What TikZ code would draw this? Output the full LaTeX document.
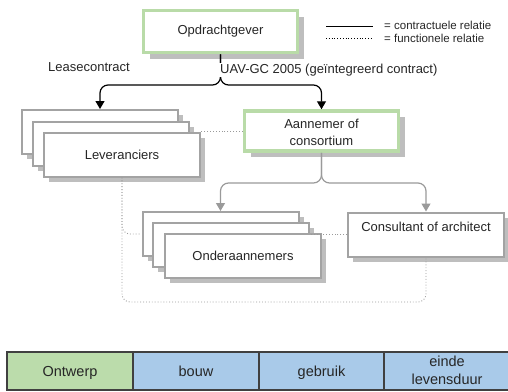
\documentclass[tikz,border=0pt]{standalone}
\usepackage{fontspec}
\setmainfont{Liberation Sans}
\usetikzlibrary{shadows,arrows.meta}
\definecolor{leafgreen}{HTML}{B9DBA8}
\definecolor{barblue}{HTML}{A9CAE9}
\definecolor{bargreen}{HTML}{BBDCAB}
\definecolor{boxgray}{HTML}{A3A3A3}
\definecolor{shadegray}{HTML}{BEBEBE}
\definecolor{inkgray}{HTML}{262626}
\definecolor{linkgray}{HTML}{9A9A9A}
\tikzset{
  txt/.style={text=inkgray,font=\fontsize{13}{16}\selectfont},
  keybox/.style={txt,draw=leafgreen,line width=3.5pt,fill=white,
    minimum width=154pt,minimum height=42pt,inner sep=0pt,align=center,
    drop shadow={shadow xshift=6pt,shadow yshift=-6pt,fill=shadegray,opacity=1}},
  card/.style={txt,draw=boxgray,line width=2pt,fill=white,
    minimum width=156pt,minimum height=44pt,inner sep=0pt,align=center,
    drop shadow={shadow xshift=5pt,shadow yshift=-5pt,fill=shadegray,opacity=1}},
  contract/.style={draw=black,line width=1.2pt,rounded corners=8pt,
    -{Triangle[length=8pt,width=9pt]}},
  subcontract/.style={draw=linkgray,line width=1.2pt,rounded corners=8pt,
    -{Triangle[length=8pt,width=9pt]}},
  functional/.style={draw=linkgray,line width=0.9pt,dotted,rounded corners=8pt},
  phase/.style={draw=black!75,line width=1.6pt,minimum height=38pt,inner sep=0pt},
  phasetxt/.style={text=inkgray,inner sep=0pt,align=center,
    font=\fontsize{14.5}{18}\selectfont},
  legendtxt/.style={text=inkgray,font=\fontsize{11.5}{13}\selectfont,anchor=west,inner sep=0pt}
}
\begin{document}
\begin{tikzpicture}[x=1pt,y=-1pt]
\useasboundingbox (0,0) rectangle (508,391);

% client and main contractor
\node[keybox] (opd) at (220.5,31.5) {Opdrachtgever};
\node[keybox,minimum height=40pt] (aan) at (321.5,131) {};
\node[txt,align=center,anchor=north,inner sep=0pt] (aantxt) at (321.5,119)
  {Aannemer of\\[1pt]consortium};

% suppliers (stack of three)
\node[card] (lev1) at (100,132) {};
\node[card] (lev2) at (110.5,143.5) {};
\node[card] (lev3) at (122,154.5) {Leveranciers};

% subcontractors (stack of three)
\node[card] (ond1) at (220.5,234) {};
\node[card] (ond2) at (230.5,245) {};
\node[card] (ond3) at (243,256) {Onderaannemers};

% consultant
\node[card] (con) at (426,234.5) {};
\node[txt,anchor=north] (contxt) at (con.north) [yshift=-7pt] {Consultant of architect};

% branching levels
\coordinate (yb) at (0,85);
\coordinate (yc) at (0,183);
\coordinate (yd) at (0,302);

% contractual relations
\draw[contract] (opd.south) |- (lev1.north |- yb) -- (lev1.north);
\draw[contract] (opd.south) |- (aan.north |- yb) -- (aan.north);
\node[txt,anchor=west,fill=white,inner sep=1pt] (uav) at (219,70) {UAV-GC 2005 (geïntegreerd contract)};
\node[txt,anchor=east,inner sep=0pt] (lease) at (130,67) {Leasecontract};

\draw[subcontract] (aan.south) |- (ond1.north |- yc) -- (ond1.north);
\draw[subcontract] (aan.south) |- (con.north |- yc) -- (con.north);

% functional relations
\draw[functional,rounded corners=0pt] (aan.west) -- (aan.west -| lev3.east);
\draw[functional,rounded corners=0pt] (con.west) -- (con.west -| ond2.east);
\draw[functional] (lev3.south) |- (ond1.west);
\draw[functional] (lev3.south) |- (con.south |- yd) -- (con.south);

% legend
\coordinate (la) at (326,26);
\coordinate (lb) at (373,26);
\coordinate (lc) at (326,38);
\coordinate (ld) at (373,38);
\draw[line width=1pt] (la) -- (lb);
\draw[line width=0.8pt,dotted] (lc) -- (ld);
\node[legendtxt] (lg1) at (384,25.5) {= contractuele relatie};
\node[legendtxt] (lg2) at (384,38) {= functionele relatie};

% life-cycle phases
\node[phase,fill=bargreen,minimum width=126pt] (p1) at (70,371) {};
\node[phase,fill=barblue,minimum width=126pt] (p2) at (196,371) {};
\node[phase,fill=barblue,minimum width=125pt] (p3) at (321.5,371) {};
\node[phase,fill=barblue,minimum width=126pt] (p4) at (447,371) {};
\node[phasetxt,anchor=base] (p1txt) at (70,376) {Ontwerp};
\node[phasetxt,anchor=base] (p2txt) at (196,376) {bouw};
\node[phasetxt,anchor=base] (p3txt) at (321.5,376) {gebruik};
\node[phasetxt,anchor=north] (p4txt) at (447,355.5) {einde\\levensduur};
\end{tikzpicture}
\end{document}
